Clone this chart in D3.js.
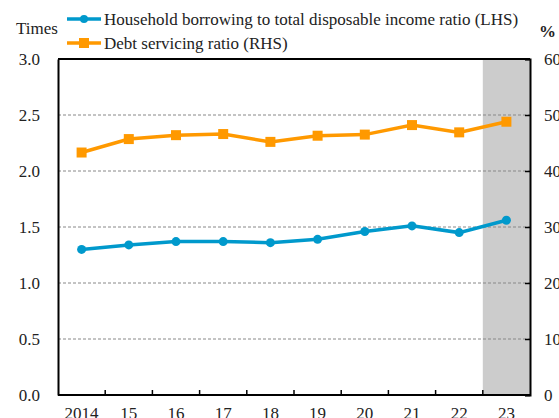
<!DOCTYPE html>
<html>
<head>
<meta charset="utf-8">
<script src="https://cdn.jsdelivr.net/npm/d3@7"></script>
<style>
  body { margin: 0; background: #fff; }
  .grid line { stroke: #888; stroke-dasharray: 3 2; }
</style>
</head>
<body>
<div id="viz"></div>
<script>
// household debt data
var years = ['2014', '15', '16', '17', '18', '19', '20', '21', '22', '23']
var borrowing = [1.30, 1.34, 1.37, 1.37, 1.36, 1.39, 1.46, 1.51, 1.45, 1.56]
var servicing = [43.3, 45.7, 46.4, 46.6, 45.2, 46.3, 46.5, 48.2, 46.9, 48.8]
var leftTicks = [0, 0.5, 1, 1.5, 2, 2.5, 3]
var rightTicks = [0, 10, 20, 30, 40, 50, 60]
var shaded = ['23']

let serif = "'Liberation Serif', 'DejaVu Serif', serif"

let svg = d3.select('#viz').append('svg')
  .attr('width', 559)
  .attr('height', 418)

let plotL = 58, plotR = 530, plotT = 59, plotB = 395

let xScale = d3.scaleBand()
  .range([plotL, plotR])
  .domain(years)

let yLeft = d3.scaleLinear().range([plotB, plotT]).domain([0, 3])
let yRight = d3.scaleLinear().range([plotB, plotT]).domain([0, 60])

// shaded forecast band
svg.selectAll('.shade')
  .data(shaded)
  .enter()
  .append('rect')
  .attr('x', (d) => xScale(d))
  .attr('y', plotT)
  .attr('width', xScale.bandwidth())
  .attr('height', plotB - plotT)
  .attr('fill', '#cccccc')

// dashed grid lines
svg.append('g')
  .attr('class', 'grid')
  .selectAll('line')
  .data(leftTicks.filter((t) => t > 0 && t < 3))
  .enter()
  .append('line')
  .attr('x1', plotL)
  .attr('x2', plotR)
  .attr('y1', (d) => yLeft(d))
  .attr('y2', (d) => yLeft(d))

// left axis
svg.append('g')
  .attr('transform', `translate(${plotL}, 0)`)
  .call(d3.axisLeft(yLeft).tickValues(leftTicks).tickFormat(d3.format('.1f')).tickSize(0).tickPadding(18))
  .call((g) => g.select('.domain').attr('stroke', '#000').attr('stroke-width', 2))

// right axis, ticks point inward
svg.append('g')
  .attr('transform', `translate(${plotR}, 0)`)
  .call(d3.axisRight(yRight).tickValues(rightTicks).tickSize(-5).tickPadding(14))
  .call((g) => g.select('.domain').attr('stroke', '#000').attr('stroke-width', 2))
  .call((g) => g.selectAll('.tick line').attr('stroke', '#000').attr('stroke-width', 1.5))

// top border
svg.append('line')
  .attr('x1', plotL)
  .attr('x2', plotR)
  .attr('y1', plotT)
  .attr('y2', plotT)
  .attr('stroke', '#000')
  .attr('stroke-width', 2)

// bottom axis, ticks between categories
let xAxis = svg.append('g')
  .attr('transform', `translate(0, ${plotB})`)

xAxis.append('line')
  .attr('x1', plotL)
  .attr('x2', plotR)
  .attr('stroke', '#000')
  .attr('stroke-width', 2)

xAxis.selectAll('.sep')
  .data(years.slice(1))
  .enter()
  .append('line')
  .attr('x1', (d) => xScale(d))
  .attr('x2', (d) => xScale(d))
  .attr('y1', 0)
  .attr('y2', -5)
  .attr('stroke', '#000')
  .attr('stroke-width', 1.5)

xAxis.selectAll('text')
  .data(years)
  .enter()
  .append('text')
  .attr('x', (d) => xScale(d) + xScale.bandwidth() / 2)
  .attr('y', 24)
  .attr('text-anchor', 'middle')
  .text((d) => d)

let cx = (d, i) => xScale(years[i]) + xScale.bandwidth() / 2

// debt servicing ratio
let orangeLine = d3.line()
  .x((d, i) => cx(d, i))
  .y((d) => yRight(d))

svg.append('path')
  .datum(servicing)
  .attr('d', orangeLine)
  .attr('fill', 'none')
  .attr('stroke', '#ff9900')
  .attr('stroke-width', 3.5)

svg.selectAll('.sq')
  .data(servicing)
  .enter()
  .append('rect')
  .attr('x', (d, i) => cx(d, i) - 5)
  .attr('y', (d) => yRight(d) - 5)
  .attr('width', 10)
  .attr('height', 10)
  .attr('fill', '#ff9900')

// borrowing ratio
let blueLine = d3.line()
  .x((d, i) => cx(d, i))
  .y((d) => yLeft(d))

svg.append('path')
  .datum(borrowing)
  .attr('d', blueLine)
  .attr('fill', 'none')
  .attr('stroke', '#0099cc')
  .attr('stroke-width', 3.5)

svg.selectAll('.dot')
  .data(borrowing)
  .enter()
  .append('circle')
  .attr('cx', (d, i) => cx(d, i))
  .attr('cy', (d) => yLeft(d))
  .attr('r', 4.5)
  .attr('fill', '#0099cc')

// legend
let legend = [
  { label: 'Household borrowing to total disposable income ratio (LHS)', color: '#0099cc', shape: 'circle' },
  { label: 'Debt servicing ratio (RHS)', color: '#ff9900', shape: 'square' }
]

legend.forEach((l, i) => {
  let y = 19 + i * 24
  svg.append('line')
    .attr('x1', 67).attr('x2', 101)
    .attr('y1', y).attr('y2', y)
    .attr('stroke', l.color)
    .attr('stroke-width', 3.5)
  if (l.shape === 'circle') {
    svg.append('circle').attr('cx', 84).attr('cy', y).attr('r', 4).attr('fill', l.color)
  } else {
    svg.append('rect').attr('x', 79).attr('y', y - 5).attr('width', 10).attr('height', 10).attr('fill', l.color)
  }
  svg.append('text')
    .attr('x', 104)
    .attr('y', y + 6)
    .text(l.label)
})

svg.append('text').attr('x', 16).attr('y', 34).text('Times')
svg.append('text').attr('x', 539).attr('y', 37).style('font-weight', 'bold').text('%')

// serif type everywhere
svg.selectAll('text')
  .style('font-family', serif)
  .style('font-size', '17px')
  .attr('fill', '#222')
</script>
</body>
</html>
